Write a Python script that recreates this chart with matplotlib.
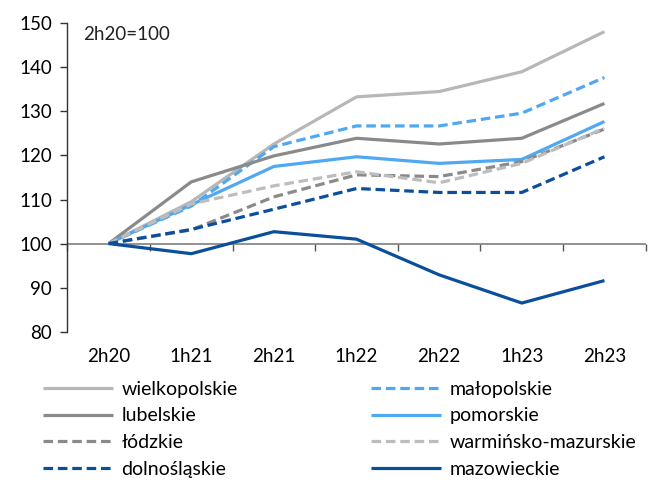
import matplotlib
matplotlib.use("Agg")
import matplotlib.pyplot as plt
import numpy as np

plt.rcParams['font.family'] = ['Lato', 'DejaVu Sans']

categories = ["2h20", "1h21", "2h21", "1h22", "2h22", "1h23", "2h23"]
wielkopolskie = [100, 109.5, 122.6, 133.3, 134.5, 139.0, 148.1]
malopolskie = [100, 108.5, 122.0, 126.7, 126.7, 129.6, 137.7]
lubelskie = [100, 114.0, 119.9, 123.9, 122.6, 123.9, 131.8]
pomorskie = [100, 108.8, 117.5, 119.7, 118.2, 119.1, 127.7]
lodzkie = [100, 103.1, 110.6, 115.6, 115.2, 118.6, 126.0]
warminsko = [100, 109.0, 113.1, 116.3, 113.8, 118.2, 126.2]
dolnoslaskie = [100, 103.2, 107.8, 112.5, 111.6, 111.6, 119.7]
mazowieckie = [100, 97.7, 102.7, 101.0, 92.9, 86.5, 91.6]

series = [
    ("wielkopolskie", wielkopolskie, "#b7b7b7", "-"),
    ("małopolskie", malopolskie, "#4fa8f2", "--"),
    ("lubelskie", lubelskie, "#8a8a8a", "-"),
    ("pomorskie", pomorskie, "#4fa8f2", "-"),
    ("łódzkie", lodzkie, "#8a8a8a", "--"),
    ("warmińsko-mazurskie", warminsko, "#bdbdbd", "--"),
    ("dolnośląskie", dolnoslaskie, "#0b4f9c", "--"),
    ("mazowieckie", mazowieckie, "#0b4f9c", "-"),
]

fig = plt.figure(figsize=(6.49, 4.80), dpi=100)
ax = fig.add_axes([0.1037, 0.309, 0.8913, 0.6425])
x = np.arange(len(categories))
handles = []
for name, vals, col, ls in series:
    kw = dict(color=col, lw=2.3, label=name, solid_capstyle='butt')
    if ls == "--":
        kw['dashes'] = (3.0, 1.5)
    h, = ax.plot(x, vals, **kw)
    handles.append(h)

ax.set_xlim(-0.5, len(categories) - 0.5)
ax.set_ylim(80, 150)
ax.set_yticks(np.arange(80, 151, 10))
ax.tick_params(axis='y', direction='out', length=5, width=1, color='#333333',
               labelsize=13.5, pad=6)
ax.set_xticks(x)
ax.set_xticklabels(categories)
ax.tick_params(axis='x', length=0, labelsize=13.5, pad=12)
for s in ['top', 'right', 'bottom']:
    ax.spines[s].set_visible(False)
ax.spines['left'].set_color('#333333')
ax.spines['left'].set_linewidth(1)

# horizontal axis line at 100 with boundary ticks
ax.axhline(100, color='#7f7f7f', lw=1.2, zorder=1)
sec = ax.secondary_xaxis((100 - 80) / 70)
sec.set_xticks(np.arange(-0.5, len(categories) + 0.5, 1))
sec.tick_params(axis='x', direction='out', length=5, width=1, color='#555555', labelbottom=False)
sec.set_xticklabels([])
sec.spines['bottom'].set_visible(False)

ax.text(0.027, 0.99, "2h20=100", transform=ax.transAxes, fontsize=13.5,
        ha='left', va='top', color='#222222')

# row-major order: left column = even indices, right column = odd indices
order = [0, 2, 4, 6, 1, 3, 5, 7]
fig.legend(handles=[handles[i] for i in order], loc='upper left',
           bbox_to_anchor=(0.066, 0.207),
           ncol=2, frameon=False, fontsize=14, handlelength=3.6,
           handletextpad=0.45, columnspacing=6.85, labelspacing=0.5,
           borderaxespad=0, borderpad=0)

fig.savefig("out.png", dpi=100)
